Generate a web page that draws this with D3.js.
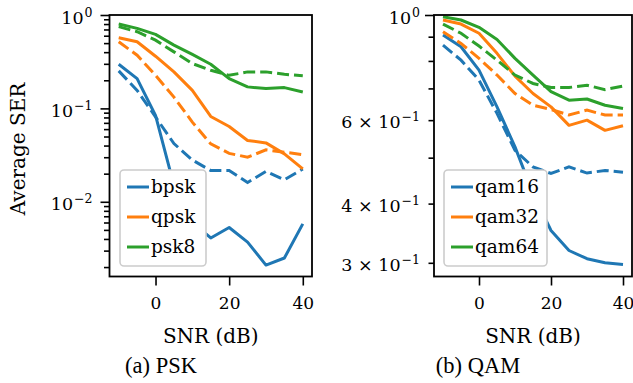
<!DOCTYPE html>
<html>
<meta charset="utf-8">
<head>
<script src="https://cdn.jsdelivr.net/npm/d3@7"></script>
<style>
body { margin: 0; background: #fff; }
text { font-family: "DejaVu Serif", serif; fill: #000; }
</style>
</head>
<body>
<div id="center"></div>
<script>
// SNR grid (dB)
var snr = [-10, -5, 0, 5, 10, 15, 20, 25, 30, 35, 40];

// PSK panel
var pskNames = ["bpsk", "qpsk", "psk8"];
var bpskSolid  = [0.297, 0.208, 0.084, 0.015, 0.006, 0.0041, 0.0053, 0.0037, 0.0021, 0.0025, 0.0058];
var bpskDashed = [0.252, 0.156, 0.081, 0.042, 0.028, 0.0216, 0.0216, 0.0161, 0.0212, 0.0172, 0.0225];
var qpskSolid  = [0.571, 0.517, 0.362, 0.246, 0.156, 0.082, 0.064, 0.0453, 0.0427, 0.0326, 0.0225];
var qpskDashed = [0.517, 0.371, 0.226, 0.132, 0.0713, 0.0417, 0.033, 0.030, 0.036, 0.034, 0.032];
var psk8Solid  = [0.80, 0.719, 0.62, 0.476, 0.378, 0.297, 0.208, 0.17, 0.163, 0.167, 0.15];
var psk8Dashed = [0.75, 0.662, 0.538, 0.403, 0.302, 0.256, 0.226, 0.246, 0.246, 0.232, 0.223];

// QAM panel
var qamNames = ["qam16", "qam32", "qam64"];
var qam16Solid  = [0.907, 0.857, 0.765, 0.64, 0.527, 0.42, 0.351, 0.3185, 0.306, 0.300, 0.2975];
var qam16Dashed = [0.864, 0.803, 0.729, 0.62, 0.518, 0.478, 0.463, 0.478, 0.464, 0.47, 0.466];
var qam32Solid  = [0.976, 0.957, 0.915, 0.83, 0.743, 0.683, 0.64, 0.585, 0.60, 0.571, 0.584];
var qam32Dashed = [0.922, 0.871, 0.81, 0.747, 0.683, 0.645, 0.632, 0.615, 0.63, 0.615, 0.615];
var qam64Solid  = [0.992, 0.976, 0.942, 0.888, 0.81, 0.747, 0.689, 0.661, 0.665, 0.645, 0.635];
var qam64Dashed = [0.957, 0.915, 0.86, 0.803, 0.747, 0.717, 0.703, 0.703, 0.711, 0.696, 0.708];

// ticks
var xTicks = [0, 20, 40];
var pskMajor = [1, 0.1, 0.01];
var pskMinor = [0.002, 0.003, 0.004, 0.005, 0.006, 0.007, 0.008, 0.009,
                0.02, 0.03, 0.04, 0.05, 0.06, 0.07, 0.08, 0.09,
                0.2, 0.3, 0.4, 0.5, 0.6, 0.7, 0.8, 0.9];
var qamMajor = [1];
var qamMinor = [0.3, 0.4, 0.5, 0.6, 0.7, 0.8, 0.9];
var qamMinorLabeled = [0.3, 0.4, 0.6];

var colors = ["#1f77b4", "#ff7f0e", "#2ca02c"];

var W = 633, H = 383;
var plotTop = 15, plotBottom = 276.5;

var svg = d3.select("#center").append("svg")
    .attr("width", W)
    .attr("height", H);

// write a tick label like 10^-1 or 6 x 10^-1 into a text node
function logLabel(sel, v) {
    var e = Math.floor(Math.log10(v) + 1e-9);
    var m = Math.round(v / Math.pow(10, e));
    sel.text(null);
    sel.append("tspan").text(m == 1 ? "10" : m + " \u00d7 10");
    sel.append("tspan")
        .attr("dy", -7)
        .attr("dx", 1)
        .style("font-size", "12.5px")
        .text(String(e).replace("-", "\u2212"));
}

function drawPanel(p) {
    var g = svg.append("g");

    var x = d3.scaleLinear().domain([-12.5, 42.5]).range([p.x0, p.x1]);
    var y = d3.scaleLog().domain(p.yDomain).range([plotBottom, plotTop]);

    var clipId = "clip" + p.id;
    svg.append("clipPath").attr("id", clipId)
        .append("rect")
        .attr("x", p.x0).attr("y", plotTop)
        .attr("width", p.x1 - p.x0).attr("height", plotBottom - plotTop);

    // x axis
    var xa = g.append("g")
        .attr("transform", "translate(0," + plotBottom + ")")
        .call(d3.axisBottom(x).tickValues(xTicks).tickSize(9).tickSizeOuter(0).tickPadding(11));
    xa.select(".domain").remove();
    xa.selectAll(".tick text").style("font-size", "17px").style("font-family", "DejaVu Serif");

    // y axis majors
    var ya = g.append("g")
        .attr("transform", "translate(" + p.x0 + ",0)")
        .call(d3.axisLeft(y).tickValues(p.major).tickSize(9).tickSizeOuter(0)
            .tickPadding(p.pad).tickFormat(function() { return ""; }));
    ya.select(".domain").remove();
    ya.selectAll(".tick text")
        .style("font-size", "17.5px").style("font-family", "DejaVu Serif")
        .attr("dy", 8)
        .each(function(d) { logLabel(d3.select(this), d); });

    // y axis minors
    var ym = g.append("g")
        .attr("transform", "translate(" + p.x0 + ",0)")
        .call(d3.axisLeft(y).tickValues(p.minor).tickSize(5.5).tickSizeOuter(0)
            .tickPadding(p.pad + 3.5).tickFormat(function() { return ""; }));
    ym.select(".domain").remove();
    ym.selectAll(".tick text")
        .style("font-size", "17.5px").style("font-family", "DejaVu Serif")
        .attr("dy", 7.5)
        .each(function(d) {
            if (p.minorLabeled.indexOf(d) >= 0) logLabel(d3.select(this), d);
        });

    g.selectAll(".tick line").attr("stroke", "#000").attr("stroke-width", 1.6);

    // curves
    var line = d3.line()
        .x(function(d, i) { return x(snr[i]); })
        .y(function(d) { return y(d); });

    var curves = g.append("g").attr("clip-path", "url(#" + clipId + ")");
    p.series.forEach(function(s, k) {
        curves.append("path")
            .attr("d", line(s.solid))
            .attr("fill", "none")
            .attr("stroke", colors[k])
            .attr("stroke-width", 3)
            .attr("stroke-linejoin", "round");
        curves.append("path")
            .attr("d", line(s.dashed))
            .attr("fill", "none")
            .attr("stroke", colors[k])
            .attr("stroke-width", 3)
            .attr("stroke-dasharray", "12,5");
    });

    // frame
    g.append("rect")
        .attr("x", p.x0).attr("y", plotTop)
        .attr("width", p.x1 - p.x0).attr("height", plotBottom - plotTop)
        .attr("fill", "none")
        .attr("stroke", "#000")
        .attr("stroke-width", 1.8);

    // legend
    var lg = g.append("g");
    lg.append("rect")
        .attr("x", p.legX).attr("y", 170)
        .attr("width", p.legW).attr("height", 96)
        .attr("rx", 4)
        .attr("fill", "#fff")
        .attr("stroke", "#cccccc")
        .attr("stroke-width", 1.6);
    p.names.forEach(function(n, k) {
        var ly = 187 + k * 30;
        lg.append("line")
            .attr("x1", p.legX + 7).attr("x2", p.legX + 29)
            .attr("y1", ly).attr("y2", ly)
            .attr("stroke", colors[k])
            .attr("stroke-width", 3);
        lg.append("text")
            .attr("x", p.legX + 31).attr("y", ly + 6)
            .style("font-size", "18.5px")
            .text(n);
    });

    // x label
    g.append("text")
        .attr("x", (p.x0 + p.x1) / 2).attr("y", 343)
        .attr("text-anchor", "middle")
        .style("font-size", "20px")
        .text("SNR (dB)");

    // caption
    g.append("text")
        .attr("x", p.capX).attr("y", 373)
        .attr("text-anchor", "middle")
        .style("font-family", "Liberation Serif")
        .style("font-size", "22.5px")
        .text(p.caption);
}

drawPanel({
    id: "psk", x0: 109.5, x1: 312, pad: 8,
    yDomain: [Math.pow(10, -2.8), 1],
    major: pskMajor, minor: pskMinor, minorLabeled: [],
    names: pskNames,
    series: [
        { solid: bpskSolid, dashed: bpskDashed },
        { solid: qpskSolid, dashed: qpskDashed },
        { solid: psk8Solid, dashed: psk8Dashed }
    ],
    legX: 120, legW: 86, capX: 161, caption: "(a) PSK"
});

drawPanel({
    id: "qam", x0: 434, x1: 632, pad: 5,
    yDomain: [0.2807, 1],
    major: qamMajor, minor: qamMinor, minorLabeled: qamMinorLabeled,
    names: qamNames,
    series: [
        { solid: qam16Solid, dashed: qam16Dashed },
        { solid: qam32Solid, dashed: qam32Dashed },
        { solid: qam64Solid, dashed: qam64Dashed }
    ],
    legX: 444, legW: 103, capX: 478, caption: "(b) QAM"
});

// y label
svg.append("text")
    .attr("transform", "translate(25,149) rotate(-90)")
    .attr("text-anchor", "middle")
    .style("font-size", "20px")
    .text("Average SER");
</script>
</body>
</html>
